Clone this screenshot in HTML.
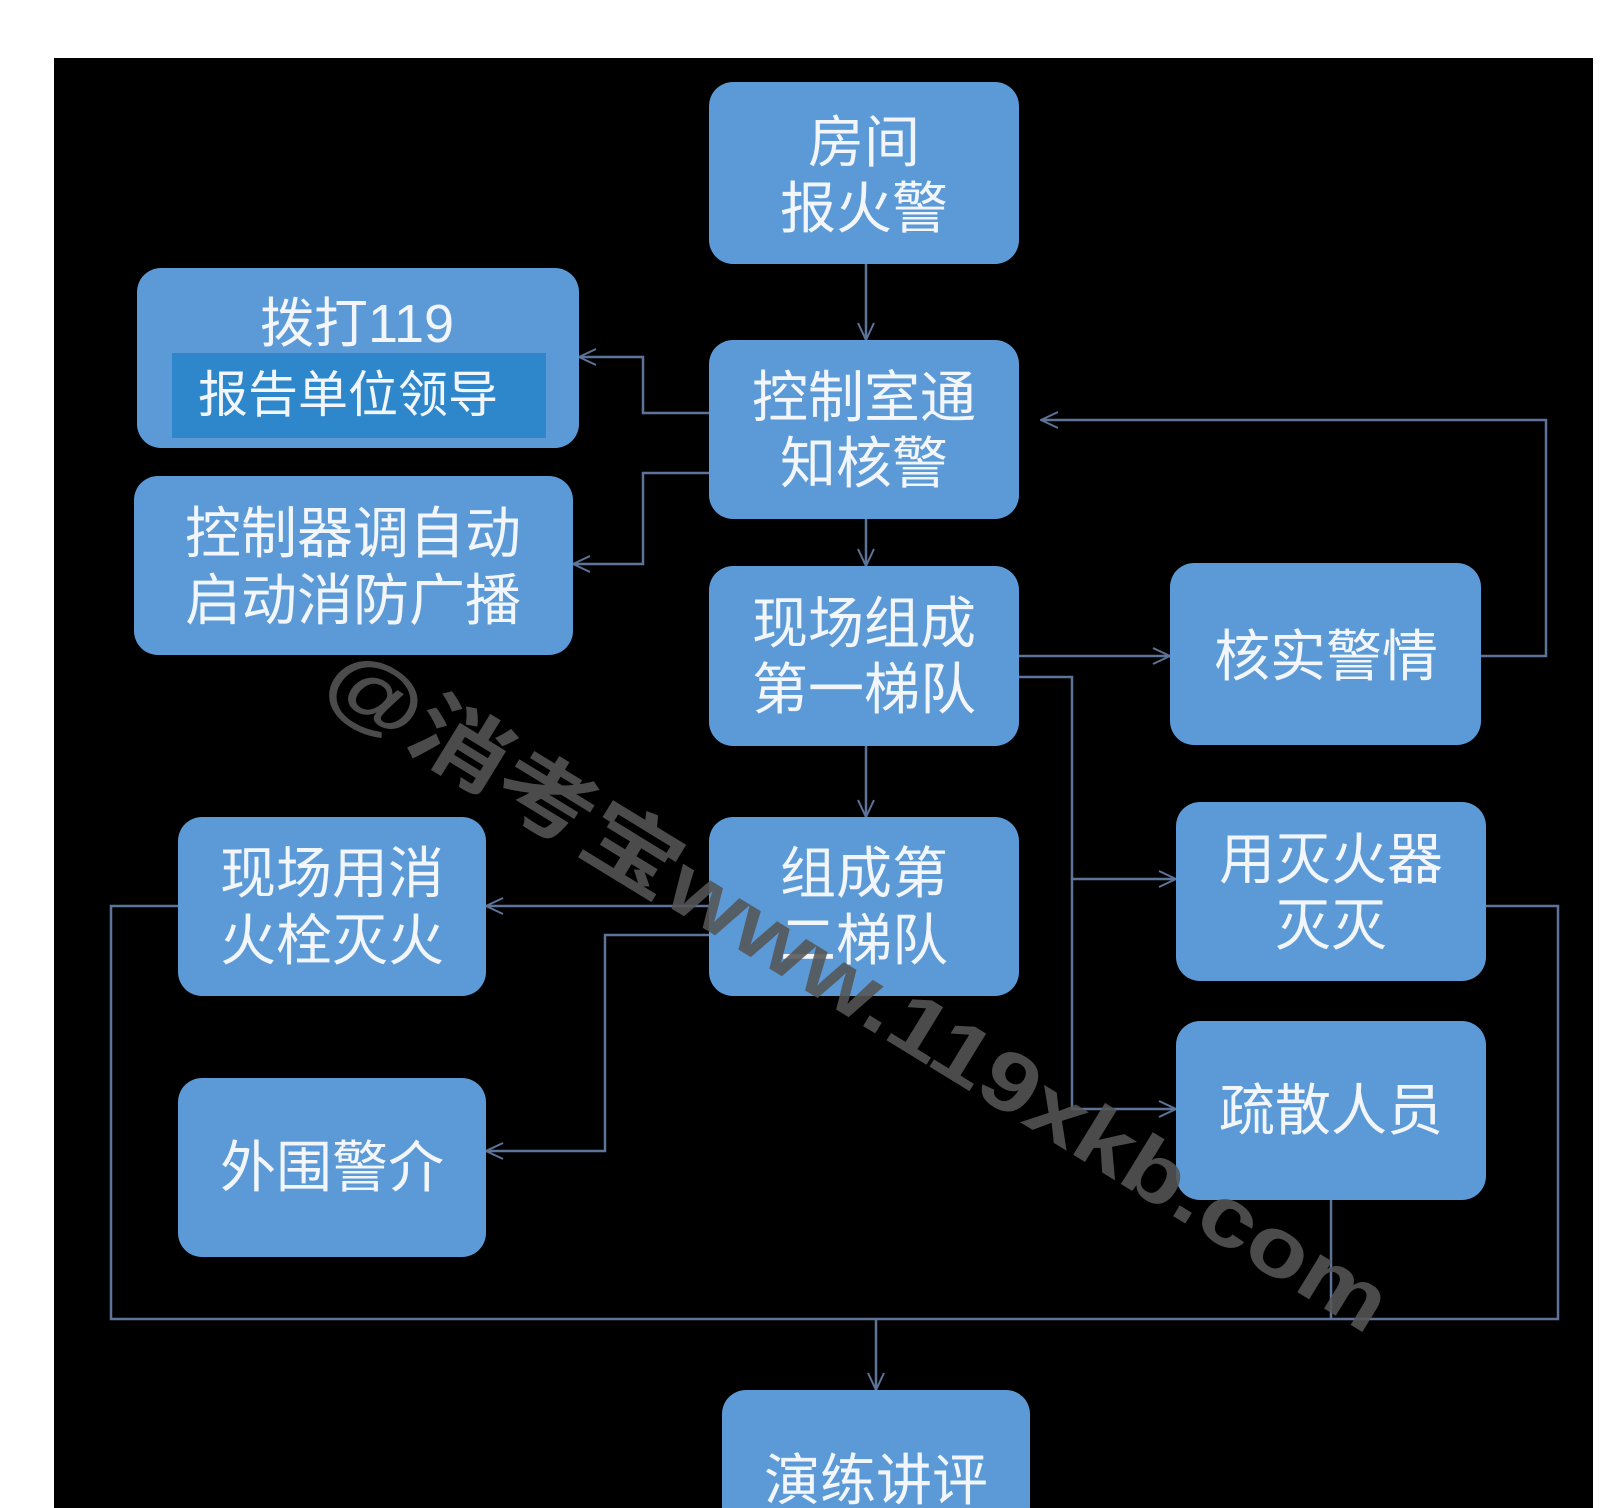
<!DOCTYPE html>
<html><head><meta charset="utf-8"><style>
html,body{margin:0;padding:0;background:#fff;}
svg{display:block}
text{font-family:"Liberation Sans","Noto Sans CJK SC",sans-serif;fill:#f2f6fb;text-anchor:middle}
</style></head><body>
<svg width="1600" height="1508" viewBox="0 0 1600 1508" xmlns="http://www.w3.org/2000/svg">
<rect x="0" y="0" width="1600" height="1508" fill="#fff"/>
<rect x="54" y="58" width="1539" height="1450" fill="#000"/>
<defs>
<marker id="a" viewBox="0 0 20 20" refX="19" refY="10" markerWidth="20" markerHeight="20" markerUnits="userSpaceOnUse" orient="auto">
<path d="M2 2 L19 10 L2 18" fill="none" stroke="#5d7398" stroke-width="2"/>
</marker>
</defs>
<g fill="none" stroke="#5d7398" stroke-width="2.5">
<path d="M866 264 V340" marker-end="url(#a)"/>
<path d="M710 413 H643 V357 H579" marker-end="url(#a)"/>
<path d="M710 473 H643 V564 H573" marker-end="url(#a)"/>
<path d="M866 519 V566" marker-end="url(#a)"/>
<path d="M1019 656 H1170" marker-end="url(#a)"/>
<path d="M1481 656 H1546 V420 H1041" marker-end="url(#a)"/>
<path d="M1019 677 H1072 V879 H1176" marker-end="url(#a)"/>
<path d="M1072 879 V1109 H1176" marker-end="url(#a)"/>
<path d="M866 746 V817" marker-end="url(#a)"/>
<path d="M710 906 H486" marker-end="url(#a)"/>
<path d="M710 935 H605 V1151 H486" marker-end="url(#a)"/>
<path d="M179 906 H111 V1319 H1558 V906 H1485"/>
<path d="M1331 1200 V1319"/>
<path d="M876 1319 V1390" marker-end="url(#a)"/>
</g>
<g fill="#5b9ad6">
<rect x="709" y="82" width="310" height="182" rx="24"/>
<rect x="137" y="268" width="442" height="180" rx="24"/>
<rect x="709" y="340" width="310" height="179" rx="24"/>
<rect x="134" y="476" width="439" height="179" rx="24"/>
<rect x="709" y="566" width="310" height="180" rx="24"/>
<rect x="1170" y="563" width="311" height="182" rx="24"/>
<rect x="709" y="817" width="310" height="179" rx="24"/>
<rect x="178" y="817" width="308" height="179" rx="24"/>
<rect x="1176" y="802" width="310" height="179" rx="24"/>
<rect x="1176" y="1021" width="310" height="179" rx="24"/>
<rect x="178" y="1078" width="308" height="179" rx="24"/>
<rect x="722" y="1390" width="308" height="140" rx="24"/>
</g>
<rect x="172" y="353" width="374" height="85" fill="#2f87cb"/>
<g font-size="56">
<text x="864" y="162">房间</text><text x="864" y="228">报火警</text>
<text x="357" y="342" font-size="54">拨打119</text>
<text x="348" y="412" font-size="50">报告单位领导</text>
<text x="864" y="417">控制室通</text><text x="864" y="483">知核警</text>
<text x="353" y="553">控制器调自动</text><text x="353" y="620">启动消防广播</text>
<text x="864" y="643">现场组成</text><text x="864" y="709">第一梯队</text>
<text x="1326" y="676">核实警情</text>
<text x="864" y="893">组成第</text><text x="864" y="960">二梯队</text>
<text x="332" y="893">现场用消</text><text x="332" y="960">火栓灭火</text>
<text x="1331" y="879">用灭火器</text><text x="1331" y="945">灭灭</text>
<text x="1331" y="1130">疏散人员</text>
<text x="332" y="1187">外围警介</text>
<text x="876" y="1500">演练讲评</text>
</g>
<text x="0" y="0" font-size="84" font-weight="bold" transform="translate(858 990) rotate(31.5)" textLength="1230" lengthAdjust="spacingAndGlyphs" style="fill:#555;fill-opacity:0.88" dy="28">@消考宝www.119xkb.com</text>
</svg>
</body></html>
